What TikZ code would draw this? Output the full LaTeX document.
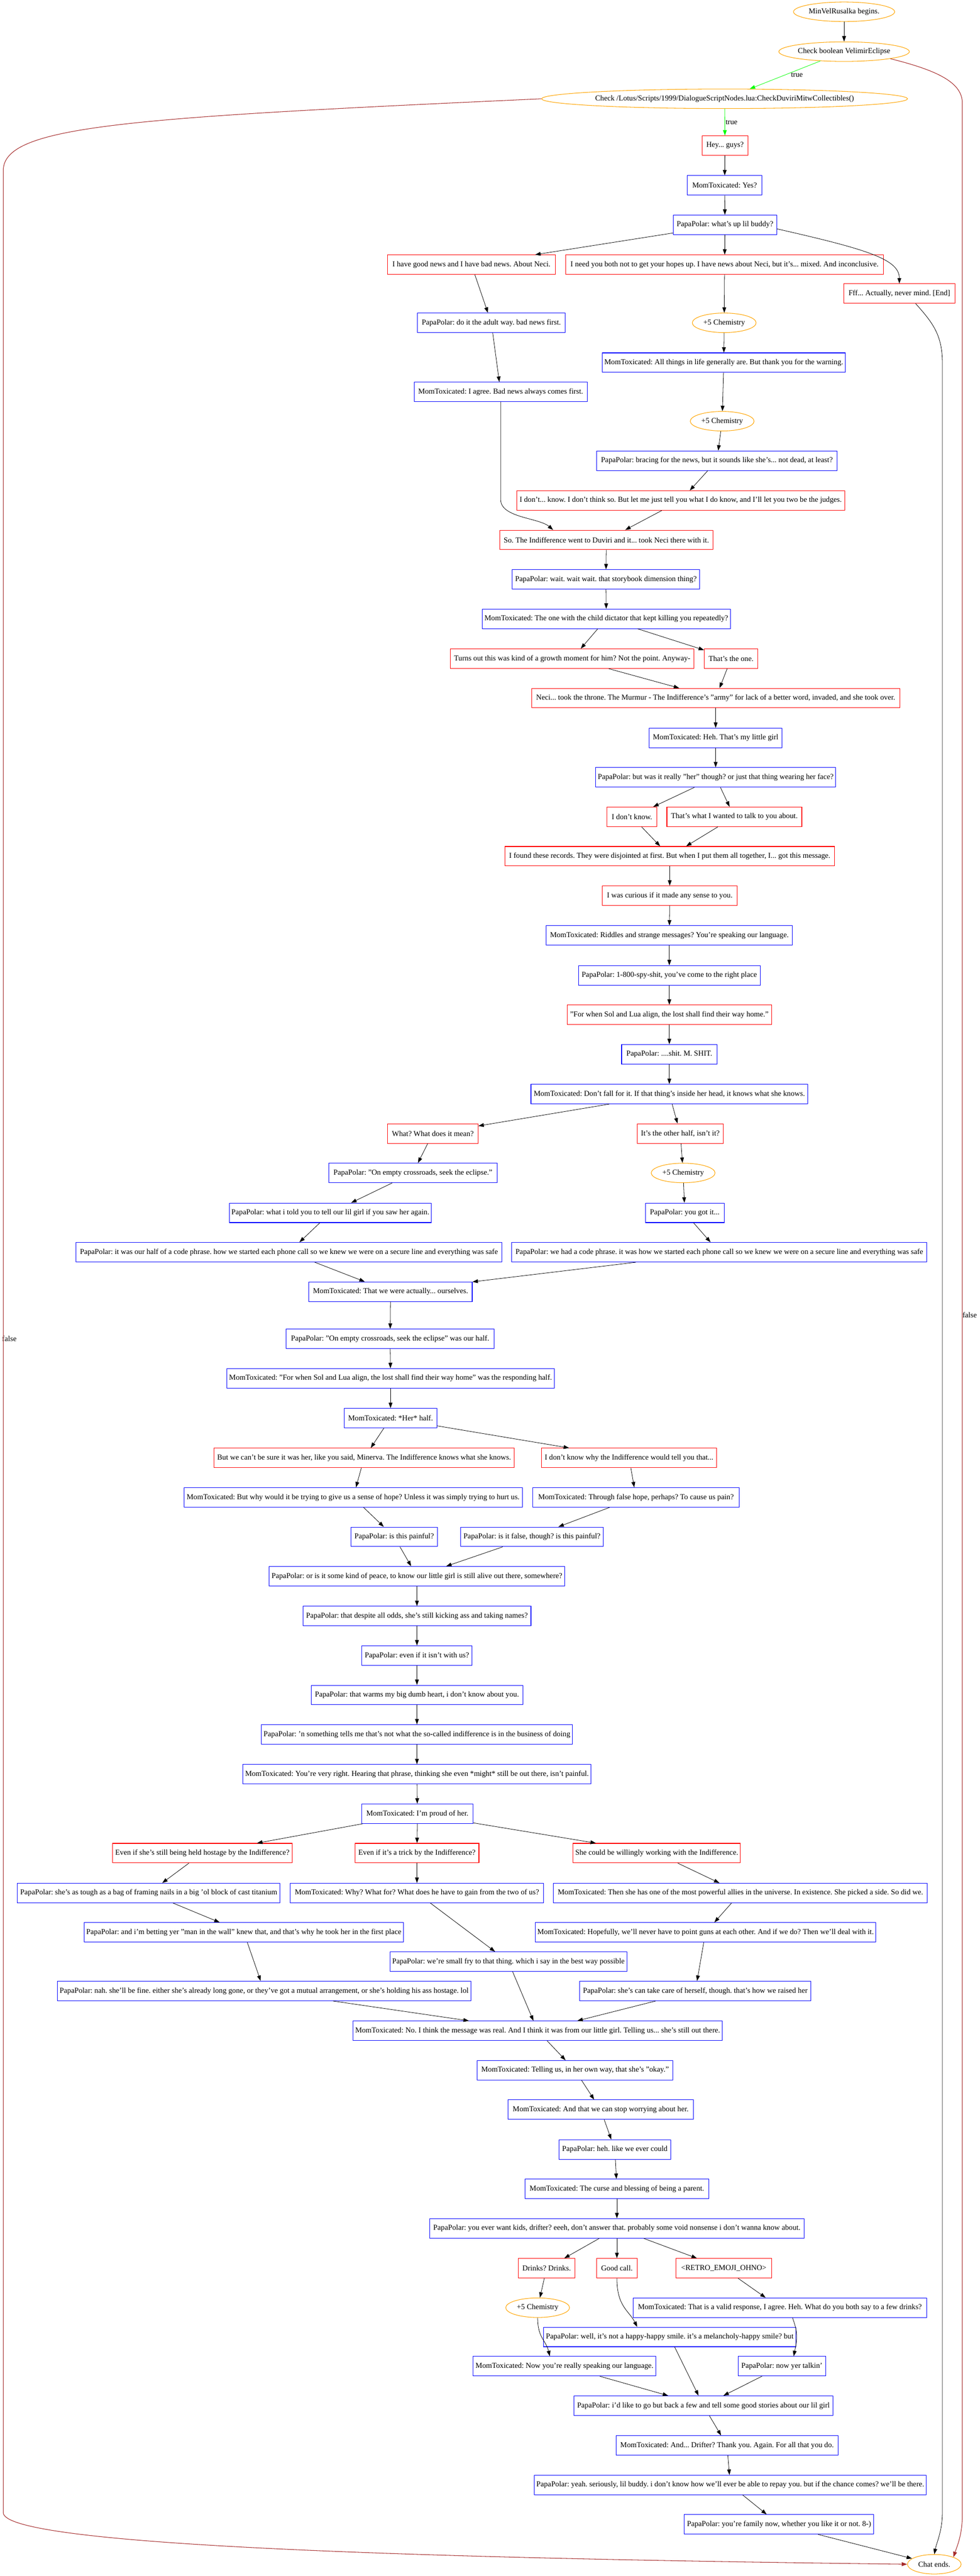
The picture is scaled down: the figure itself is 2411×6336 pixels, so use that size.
\documentclass[tikz,border=0pt]{standalone}
\usepackage{fontspec}
\setmainfont{Liberation Serif}
\usetikzlibrary{shapes.geometric,arrows.meta,calc}
\definecolor{gvred}{HTML}{FF0000}
\definecolor{gvblue}{HTML}{0000FF}
\definecolor{gvorange}{HTML}{FFA500}
\definecolor{gvgreen}{HTML}{00FF00}
\definecolor{gvbrown}{HTML}{A52A2A}
\frenchspacing
\begin{document}
\begin{tikzpicture}[x=0.75pt,y=-0.75pt,
  every node/.style={font=\fontsize{14pt}{16pt}\selectfont},
  box/.style={rectangle, line width=1pt, minimum height=36pt, inner xsep=4pt, inner ysep=2pt},
  rbox/.style={box, draw=gvred},
  bbox/.style={box, draw=gvblue},
  oval/.style={ellipse, draw=gvorange, line width=1pt, minimum height=36pt, inner sep=0pt},
  bw/.style={minimum width=#1*0.75pt},
  conn/.style={line width=0.75pt, -{Triangle[length=10pt,width=7pt]}},
  tconn/.style={conn, draw=gvgreen},
  fconn/.style={conn, line width=1pt, draw=gvbrown},
  lbl/.style={inner sep=0pt}
]
\useasboundingbox (0,0) rectangle (2411,6336);
\fill[white] (0,0) rectangle (2411,6336);

% ---------- nodes ----------
\node[oval,bw=249] (start) at (2077,29) {MinVelRusalka begins.};
\node[oval,bw=321] (cbool) at (2077,127) {Check boolean VelimirEclipse};
\node[oval,bw=838] (clua) at (1783,243) {Check /Lotus/Scripts/1999/DialogueScriptNodes.lua:CheckDuviriMitwCollectibles()};
\node[rbox,bw=113] (hey) at (1784,358) {Hey... guys?};
\node[bbox,bw=183] (yes) at (1783,456) {MomToxicated: Yes?};
\node[bbox,bw=255] (whatsup) at (1784,553) {PapaPolar: what's up lil buddy?};
\node[rbox,bw=414] (goodnews) at (1160,651) {I have good news and I have bad news. About Neci.};
\node[rbox,bw=782] (needyou) at (1783,651) {I need you both not to get your hopes up. I have news about Neci, but it's... mixed. And inconclusive.};
\node[rbox,bw=273] (fff) at (2213,722) {Fff... Actually, never mind. [End]};
\node[bbox,bw=363] (adult) at (1209,794) {PapaPolar: do it the adult way. bad news first.};
\node[oval,bw=157] (chemA) at (1782,794) {+5 Chemistry};
\node[bbox,bw=595] (allthings) at (1781,892) {MomToxicated: All things in life generally are. But thank you for the warning.};
\node[bbox,bw=426] (agree) at (1232,964) {MomToxicated: I agree. Bad news always comes first.};
\node[oval,bw=157] (chemB) at (1777,1036) {+5 Chemistry};
\node[bbox,bw=592] (bracing) at (1764,1133) {PapaPolar: bracing for the news, but it sounds like she's... not dead, at least?};
\node[rbox,bw=807] (idontknow) at (1675,1231) {I don't... know. I don't think so. But let me just tell you what I do know, and I'll let you two be the judges.};
\node[rbox,bw=524] (so) at (1492,1328) {So. The Indifference went to Duviri and it... took Neci there with it.};
\node[bbox,bw=461] (wait) at (1491,1425) {PapaPolar: wait. wait wait. that storybook dimension thing?};
\node[bbox,bw=610] (child) at (1492,1522) {MomToxicated: The one with the child dictator that kept killing you repeatedly?};
\node[rbox,bw=599] (turns) at (1408,1620) {Turns out this was kind of a growth moment for him? Not the point. Anyway-};
\node[rbox,bw=132] (thatsone) at (1799,1620) {That's the one.};
\node[rbox,bw=906] (neci) at (1761,1717) {Neci... took the throne. The Murmur - The Indifference's "army" for lack of a better word, invaded, and she took over.};
\node[bbox,bw=327] (heh) at (1761,1815) {MomToxicated: Heh. That's my little girl};
\node[bbox,bw=591] (herthough) at (1761,1912) {PapaPolar: but was it really "her" though? or just that thing wearing her face?};
\node[rbox,bw=123] (idk) at (1555,2009) {I don't know.};
\node[rbox,bw=332] (talkabout) at (1807,2009) {That's what I wanted to talk to you about.};
\node[rbox,bw=811] (found) at (1648,2106) {I found these records. They were disjointed at first. But when I put them all together, I... got this message.};
\node[rbox,bw=331] (curious) at (1648,2203) {I was curious if it made any sense to you.};
\node[bbox,bw=606] (riddles) at (1647,2301) {MomToxicated: Riddles and strange messages? You're speaking our language.};
\node[bbox,bw=447] (spy) at (1647,2399) {PapaPolar: 1-800-spy-shit, you've come to the right place};
\node[rbox,bw=503] (sollua) at (1647,2496) {"For when Sol and Lua align, the lost shall find their way home."};
\node[bbox,bw=235] (shit) at (1647,2593) {PapaPolar: ....shit. M. SHIT.};
\node[bbox,bw=681] (dontfall) at (1647,2691) {MomToxicated: Don't fall for it. If that thing's inside her head, it knows what she knows.};
\node[rbox,bw=223] (whatmean) at (1065,2788) {What? What does it mean?};
\node[rbox,bw=211] (otherhalf) at (1674,2788) {It's the other half, isn't it?};
\node[bbox,bw=415] (crossroads) at (1016,2885) {PapaPolar: "On empty crossroads, seek the eclipse."};
\node[oval,bw=157] (chemC) at (1681,2885) {+5 Chemistry};
\node[bbox,bw=497] (toldyou) at (813,2983) {PapaPolar: what i told you to tell our lil girl if you saw her again.};
\node[bbox,bw=194] (gotit) at (1685,2983) {PapaPolar: you got it...};
\node[bbox,bw=1047] (ourhalf) at (711,3080) {PapaPolar: it was our half of a code phrase. how we started each phone call so we knew we were on a secure line and everything was safe};
\node[bbox,bw=1021] (hadcode) at (1770,3080) {PapaPolar: we had a code phrase. it was how we started each phone call so we knew we were on a secure line and everything was safe};
\node[bbox,bw=402] (actually) at (961,3177) {MomToxicated: That we were actually... ourselves.};
\node[bbox,bw=512] (wasourhalf) at (960,3293) {PapaPolar: "On empty crossroads, seek the eclipse" was our half.};
\node[bbox,bw=806] (responding) at (961,3390) {MomToxicated: "For when Sol and Lua align, the lost shall find their way home" was the responding half.};
\node[bbox,bw=228] (herhalf) at (961,3488) {MomToxicated: *Her* half.};
\node[rbox,bw=738] (cantbesure) at (896,3586) {But we can't be sure it was her, like you said, Minerva. The Indifference knows what she knows.};
\node[rbox,bw=431] (dontknowwhy) at (1548,3586) {I don't know why the Indifference would tell you that...};
\node[bbox,bw=833] (whyhope) at (869,3683) {MomToxicated: But why would it be trying to give us a sense of hope? Unless it was simply trying to hurt us.};
\node[bbox,bw=509] (falsehope) at (1565,3683) {MomToxicated: Through false hope, perhaps? To cause us pain?};
\node[bbox,bw=212] (ispainful) at (970,3780) {PapaPolar: is this painful?};
\node[bbox,bw=352] (isfalse) at (1309,3780) {PapaPolar: is it false, though? is this painful?};
\node[bbox,bw=727] (peace) at (1026,3877) {PapaPolar: or is it some kind of peace, to know our little girl is still alive out there, somewhere?};
\node[bbox,bw=561] (despite) at (1026,3975) {PapaPolar: that despite all odds, she's still kicking ass and taking names?};
\node[bbox,bw=271] (evenif) at (1026,4072) {PapaPolar: even if it isn't with us?};
\node[bbox,bw=521] (warms) at (1026,4169) {PapaPolar: that warms my big dumb heart, i don't know about you.};
\node[bbox,bw=765] (something) at (1026,4266) {PapaPolar: 'n something tells me that's not what the so-called indifference is in the business of doing};
\node[bbox,bw=847] (veryright) at (1026,4364) {MomToxicated: You're very right. Hearing that phrase, thinking she even *might* still be out there, isn't painful.};
\node[bbox,bw=274] (proud) at (1027,4461) {MomToxicated: I'm proud of her.};
\node[rbox,bw=443] (hostage) at (498,4558) {Even if she's still being held hostage by the Indifference?};
\node[rbox,bw=305] (trick) at (1026,4558) {Even if it's a trick by the Indifference?};
\node[rbox,bw=412] (willingly) at (1616,4558) {She could be willingly working with the Indifference.};
\node[bbox,bw=646] (tough) at (366,4656) {PapaPolar: she's as tough as a bag of framing nails in a big 'ol block of cast titanium};
\node[bbox,bw=623] (whyfor) at (1026,4656) {MomToxicated: Why? What for? What does he have to gain from the two of us?};
\node[bbox,bw=920] (allies) at (1822,4656) {MomToxicated: Then she has one of the most powerful allies in the universe. In existence. She picked a side. So did we.};
\node[bbox,bw=779] (betting) at (600,4753) {PapaPolar: and i'm betting yer "man in the wall" knew that, and that's why he took her in the first place};
\node[bbox,bw=836] (hopefully) at (1736,4753) {MomToxicated: Hopefully, we'll never have to point guns at each other. And if we do? Then we'll deal with it.};
\node[bbox,bw=583] (smallfry) at (1251,4825) {PapaPolar: we're small fry to that thing. which i say in the best way possible};
\node[bbox,bw=1010] (nah) at (650,4897) {PapaPolar: nah. she'll be fine. either she's already long gone, or they've got a mutual arrangement, or she's holding his ass hostage. lol};
\node[bbox,bw=569] (takecare) at (1711,4897) {PapaPolar: she's can take care of herself, though. that's how we raised her};
\node[bbox,bw=906] (noreal) at (1323,4995) {MomToxicated: No. I think the message was real. And I think it was from our little girl. Telling us... she's still out there.};
\node[bbox,bw=481] (okay) at (1415,5092) {MomToxicated: Telling us, in her own way, that she's "okay."};
\node[bbox,bw=457] (stopworry) at (1478,5189) {MomToxicated: And that we can stop worrying about her.};
\node[bbox,bw=276] (hehtwo) at (1513,5287) {PapaPolar: heh. like we ever could};
\node[bbox,bw=453] (curse) at (1518,5384) {MomToxicated: The curse and blessing of being a parent.};
\node[bbox,bw=921] (kids) at (1518,5481) {PapaPolar: you ever want kids, drifter? eeeh, don't answer that. probably some void nonsense i don't wanna know about.};
\node[rbox,bw=140] (drinks) at (1345,5579) {Drinks? Drinks.};
\node[rbox,bw=101] (goodcall) at (1518,5579) {Good call.};
\node[rbox,bw=235] (retro) at (1781,5579) {<RETRO\_EMOJI\_OHNO>};
\node[oval,bw=157] (chemD) at (1323,5676) {+5 Chemistry};
\node[bbox,bw=722] (valid) at (1919,5676) {MomToxicated: That is a valid response, I agree. Heh. What do you both say to a few drinks?};
\node[bbox,bw=619] (happy) at (1648,5748) {PapaPolar: well, it's not a happy-happy smile. it's a melancholy-happy smile? but};
\node[bbox,bw=450] (nowspeaking) at (1389,5820) {MomToxicated: Now you're really speaking our language.};
\node[bbox,bw=215] (nowtalkin) at (1924,5820) {PapaPolar: now yer talkin'};
\node[bbox,bw=637] (goback) at (1731,5917) {PapaPolar: i'd like to go but back a few and tell some good stories about our lil girl};
\node[bbox,bw=546] (thankyou) at (1789,6015) {MomToxicated: And... Drifter? Thank you. Again. For all that you do.};
\node[bbox,bw=964] (yeah) at (1797,6112) {PapaPolar: yeah. seriously, lil buddy. i don't know how we'll ever be able to repay you. but if the chance comes? we'll be there.};
\node[bbox,bw=466] (family) at (1917,6209) {PapaPolar: you're family now, whether you like it or not. 8-)};
\node[oval,bw=132] (chat) at (2299,6307) {Chat ends.};

% ---------- labels ----------
\node[lbl] (ltrueA) at (1961,184) {true};
\node[lbl] (ltrueB) at (1800,301) {true};
\node[lbl] (lfalseL) at (23,3292) {false};
\node[lbl] (lfalseR) at (2386,3234) {false};

% ---------- bend points ----------
\coordinate (flA) at (8,420);
\coordinate (flB) at (8,6180);
\coordinate (frA) at (2368,254);
\coordinate (frB) at (2368,6184);
\coordinate (ffA) at (2319,896);
\coordinate (ffB) at (2319,6176);

% ---------- connectors ----------
\draw[conn] (start) -- (cbool);
\draw[tconn] (cbool) -- (clua);
\draw[tconn] (clua) -- (hey);
\draw[fconn] (clua.west) .. controls (300,290) and (8,310) .. (flA) -- (flB) .. controls (8,6260) and (1000,6292) .. (chat.west);
\draw[fconn] (cbool.south east) .. controls (2310,174) and (2368,204) .. (frA) -- (frB) .. controls (2368,6234) and (2356,6260) .. (chat.north east);
\draw[conn] (hey) -- (yes);
\draw[conn] (yes) -- (whatsup);
\draw[conn] (whatsup) -- (goodnews);
\draw[conn] (whatsup) -- (needyou);
\draw[conn] ($(whatsup.east)+(0,10)$) .. controls +(220,50) and +(0,-60) .. (fff.north);
\draw[conn] ($(fff.south)+(40,0)$) .. controls +(45,50) and +(0,-70) .. (ffA) -- (ffB) .. controls +(0,50) and +(6,-30) .. (chat.north);
\draw[conn] (goodnews) -- (adult);
\draw[conn] (adult) -- (agree);
\draw[conn] (agree.south) -- ++(0,240) .. controls +(0,45) and +(-35,-30) .. ($(so.north)+(-131,0)$);
\draw[conn] (needyou) -- (chemA);
\draw[conn] (chemA) -- (allthings);
\draw[conn] (allthings) -- (chemB);
\draw[conn] (chemB) -- (bracing);
\draw[conn] (bracing) -- (idontknow);
\draw[conn] (idontknow) -- (so);
\draw[conn] (so) -- (wait);
\draw[conn] (wait) -- (child);
\draw[conn] (child) -- (turns);
\draw[conn] (child) -- (thatsone);
\draw[conn] (turns) -- (neci);
\draw[conn] (thatsone) -- (neci);
\draw[conn] (neci) -- (heh);
\draw[conn] (heh) -- (herthough);
\draw[conn] (herthough) -- (idk);
\draw[conn] (herthough) -- (talkabout);
\draw[conn] (idk) -- (found);
\draw[conn] (talkabout) -- (found);
\draw[conn] (found) -- (curious);
\draw[conn] (curious) -- (riddles);
\draw[conn] (riddles) -- (spy);
\draw[conn] (spy) -- (sollua);
\draw[conn] (sollua) -- (shit);
\draw[conn] (shit) -- (dontfall);
\draw[conn] (dontfall) -- (whatmean);
\draw[conn] (dontfall) -- (otherhalf);
\draw[conn] (whatmean) -- (crossroads);
\draw[conn] (crossroads) -- (toldyou);
\draw[conn] (toldyou) -- (ourhalf);
\draw[conn] (otherhalf) -- (chemC);
\draw[conn] (chemC) -- (gotit);
\draw[conn] (gotit) -- (hadcode);
\draw[conn] (ourhalf) -- (actually);
\draw[conn] (hadcode) -- (actually);
\draw[conn] (actually) -- (wasourhalf);
\draw[conn] (wasourhalf) -- (responding);
\draw[conn] (responding) -- (herhalf);
\draw[conn] (herhalf) -- (cantbesure);
\draw[conn] (herhalf) -- (dontknowwhy);
\draw[conn] (cantbesure) -- (whyhope);
\draw[conn] (dontknowwhy) -- (falsehope);
\draw[conn] (whyhope) -- (ispainful);
\draw[conn] (falsehope) -- (isfalse);
\draw[conn] (ispainful) -- (peace);
\draw[conn] (isfalse) -- (peace);
\draw[conn] (peace) -- (despite);
\draw[conn] (despite) -- (evenif);
\draw[conn] (evenif) -- (warms);
\draw[conn] (warms) -- (something);
\draw[conn] (something) -- (veryright);
\draw[conn] (veryright) -- (proud);
\draw[conn] (proud) -- (hostage);
\draw[conn] (proud) -- (trick);
\draw[conn] (proud) -- (willingly);
\draw[conn] (hostage) -- (tough);
\draw[conn] (trick) -- (whyfor);
\draw[conn] (willingly) -- (allies);
\draw[conn] (tough) -- (betting);
\draw[conn] (whyfor) -- (smallfry);
\draw[conn] (allies) -- (hopefully);
\draw[conn] (betting) -- (nah);
\draw[conn] (hopefully) -- (takecare);
\draw[conn] (nah) -- (noreal);
\draw[conn] (smallfry) -- (noreal);
\draw[conn] (takecare) -- (noreal);
\draw[conn] (noreal) -- (okay);
\draw[conn] (okay) -- (stopworry);
\draw[conn] (stopworry) -- (hehtwo);
\draw[conn] (hehtwo) -- (curse);
\draw[conn] (curse) -- (kids);
\draw[conn] (kids) -- (drinks);
\draw[conn] (kids) -- (goodcall);
\draw[conn] (kids) -- (retro);
\draw[conn] (drinks) -- (chemD);
\draw[conn] (retro) -- (valid);
\draw[conn] (goodcall.south) .. controls +(0,70) and +(-20,-40) .. ($(happy.north)+(-80,0)$);
\draw[conn] (chemD.south) .. controls +(0,50) and +(-10,-40) .. ($(nowspeaking.north)+(-36,0)$);
\draw[conn] ($(valid.south)+(31,0)$) .. controls +(15,40) and +(8,-40) .. ($(nowtalkin.north)+(29,0)$);
\draw[conn] (happy) -- (goback);
\draw[conn] (nowspeaking) -- (goback);
\draw[conn] (nowtalkin) -- (goback);
\draw[conn] (goback) -- (thankyou);
\draw[conn] (thankyou) -- (yeah);
\draw[conn] (yeah) -- (family);
\draw[conn] (family) -- (chat);
\end{tikzpicture}
\end{document}
